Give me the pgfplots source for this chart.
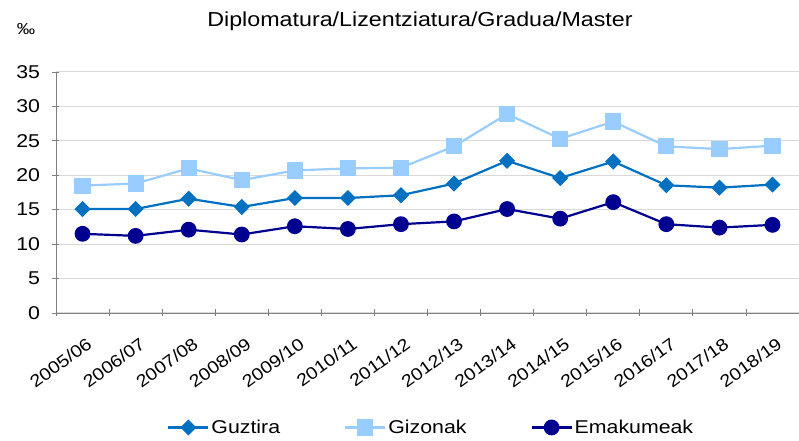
\documentclass[border=0pt]{standalone}
\usepackage{pgfplots}
\pgfplotsset{compat=1.18}
\usepackage{fontspec}
\setmainfont[FakeStretch=1.15]{Liberation Sans}
\definecolor{cguz}{HTML}{0070C0}
\definecolor{cgiz}{HTML}{99CCFF}
\definecolor{cema}{HTML}{000090}
\definecolor{cgrid}{HTML}{D9D9D9}
\definecolor{caxis}{HTML}{808080}
\begin{document}
\begin{tikzpicture}[x=1bp,y=1bp]
\useasboundingbox (-56,-128) rectangle (743,313);
\begin{axis}[
  at={(0,0)}, anchor=south west,
  scale only axis, width=743bp, height=241bp,
  xmin=-0.5, xmax=13.5, ymin=0, ymax=35,
  ytick={0,5,...,35},
  xtick={0,...,13},
  xticklabels={2005/06,2006/07,2007/08,2008/09,2009/10,2010/11,2011/12,2012/13,2013/14,2014/15,2015/16,2016/17,2017/18,2018/19},
  minor xtick={-0.5,0.5,...,12.5},
  major x tick style={draw=none},
  minor tick length=7bp, major tick length=7bp,
  tick align=outside,
  tick style={caxis, line width=0.8bp},
  axis x line=bottom, axis y line=left,
  axis line style={-, caxis, line width=0.8bp},
  ymajorgrids, grid style={cgrid, line width=1bp},
  x tick label style={rotate=36, anchor=north east, font=\fontsize{17.2}{19}\selectfont, inner sep=0bp, xshift=-9bp, yshift=-18bp},
  y tick label style={font=\fontsize{18.6}{20}\selectfont, xshift=-9bp},
  /pgf/number format/assume math mode=true,
  clip=true,
  legend style={at={(0.505,-0.475)}, anchor=center, draw=none, legend columns=3, font=\fontsize{18.6}{20}\selectfont,
    /tikz/every even column/.append style={column sep=62bp}},
  legend image code/.code={\draw[#1, mark repeat=2, mark phase=2] plot coordinates {(0bp,0bp) (20bp,0bp) (40bp,0bp)};},
]
\addplot[cguz, line width=2.2bp, mark=diamond*, mark size=6.5bp, mark options={xscale=1.33, solid}] coordinates {
(0,15.1)(1,15.1)(2,16.6)(3,15.4)(4,16.7)(5,16.7)(6,17.1)(7,18.8)(8,22.1)(9,19.6)(10,22.0)(11,18.55)(12,18.2)(13,18.65)};
\addlegendentry{Guztira}
\addplot[cgiz, line width=2.2bp, mark=square*, mark size=7bp, mark options={solid}] coordinates {
(0,18.5)(1,18.8)(2,21.0)(3,19.3)(4,20.7)(5,21.0)(6,21.1)(7,24.2)(8,28.9)(9,25.3)(10,27.8)(11,24.2)(12,23.8)(13,24.3)};
\addlegendentry{Gizonak}
\addplot[cema, line width=2.2bp, mark=*, mark size=6.8bp, mark options={solid}] coordinates {
(0,11.5)(1,11.2)(2,12.1)(3,11.4)(4,12.6)(5,12.2)(6,12.9)(7,13.3)(8,15.1)(9,13.7)(10,16.1)(11,12.9)(12,12.4)(13,12.8)};
\addlegendentry{Emakumeak}
\end{axis}
\node[font=\fontsize{20.3}{22}\selectfont] at (364,292) {Diplomatura/Lizentziatura/Gradua/Master};
\node[font=\fontsize{16}{18}\selectfont] at (-30,284) {‰};
\end{tikzpicture}
\end{document}
